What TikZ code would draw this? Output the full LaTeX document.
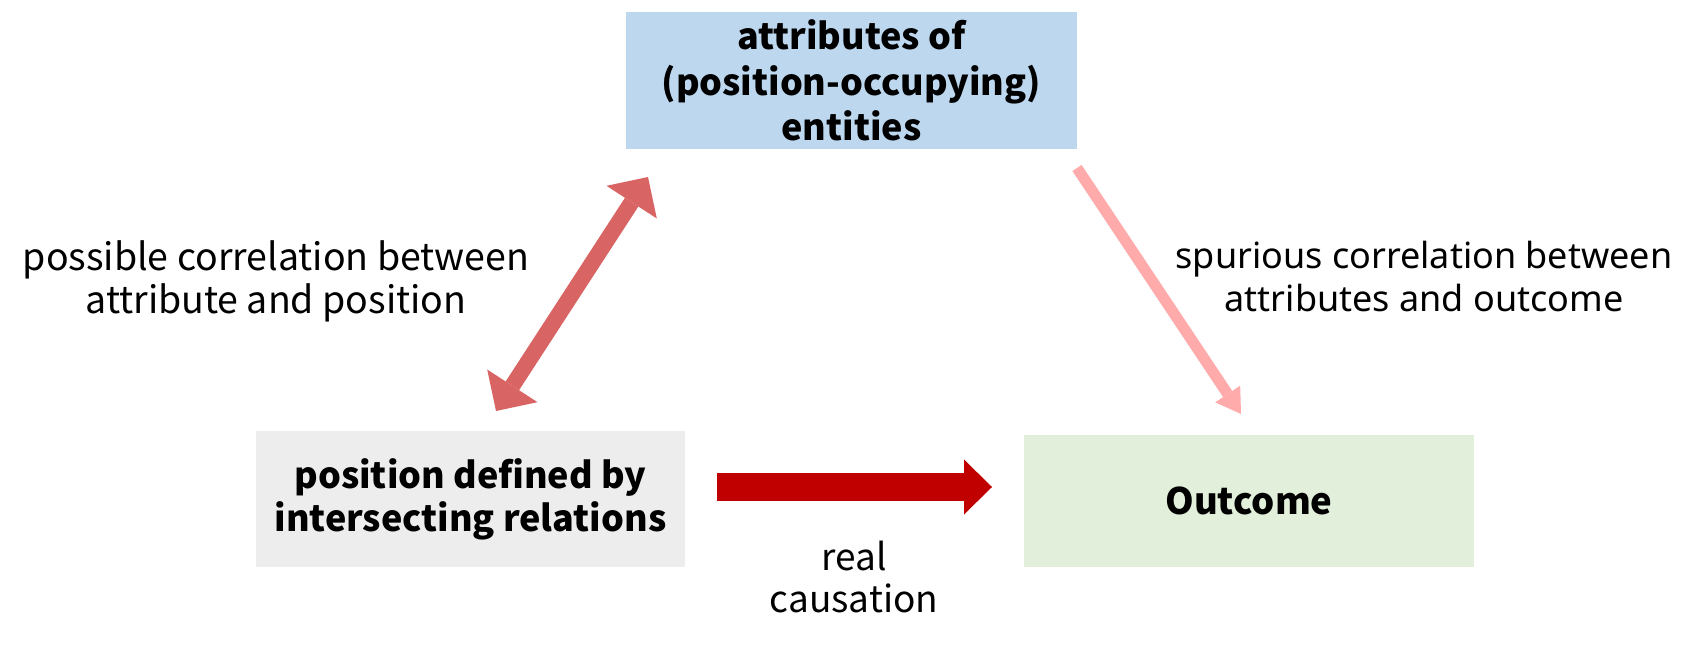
\documentclass[tikz,border=0pt]{standalone}
\usepackage{fontspec}
\setmainfont{Noto Sans CJK KR}
\newfontfamily\spfont{Noto Sans}
\usetikzlibrary{arrows.meta}
\definecolor{boxblue}{RGB}{189,215,238}
\definecolor{boxgray}{RGB}{237,237,237}
\definecolor{boxgreen}{RGB}{226,239,218}
\definecolor{arrred}{RGB}{192,0,0}
\definecolor{arrmid}{RGB}{217,100,100}
\definecolor{arrpink}{RGB}{255,171,171}
\begin{document}
\begin{tikzpicture}[x=1pt,y=-1pt,
  box/.style={inner sep=0pt, outer sep=0pt, align=center, text=black},
  lbl/.style={inner sep=0pt, outer sep=0pt, align=center, text=black}]
\useasboundingbox (0,0) rectangle (1708,647);
\fill[white] (0,0) rectangle (1708,647);
\node[box, fill=boxblue, minimum width=451pt, minimum height=137pt,
  font=\fontsize{36}{45.5}\selectfont\bfseries] (attr) at (851.5,80.5)
  {attributes of\\(position-occupying)\\entities};
\node[box, fill=boxgray, minimum width=429pt, minimum height=136pt,
  font=\fontsize{36}{43}\selectfont\bfseries] (pos) at (470.5,499)
  {\raisebox{-2pt}{position defined by}\\\raisebox{-2pt}{intersecting relations}};
\node[box, fill=boxgreen, minimum width=450pt, minimum height=132pt,
  font=\fontsize{36.5}{44}\selectfont\bfseries] (out) at (1249,501)
  {Outcome};
\node[lbl, font=\fontsize{37.5}{43.6}\selectfont] (lpc) at (276,281.5)
  {possible correlation between\\attribute and position};
\node[lbl, font=\spfont\fontsize{36}{42.6}\selectfont] (lsc) at (1424,276.6)
  {spurious correlation between\\attributes and outcome};
\node[lbl, font=\fontsize{37}{42}\selectfont] (lrc) at (854,577)
  {real\\causation};
% arrows
\coordinate (d1) at (648,177);
\coordinate (d2) at (496,411);
\draw[arrmid, line width=16pt,
  {Triangle[width=60pt,length=30pt,line width=0pt]}-{Triangle[width=60pt,length=30pt,line width=0pt]}]
  (d2) -- (d1);
\coordinate (p1) at (1077,168);
\coordinate (p2) at (1241,414);
\draw[arrpink, line width=11pt, -{Triangle[width=30pt,length=24pt,line width=0pt]}]
  (p1) -- (p2);
\coordinate (r1) at (717,487);
\coordinate (r2) at (992,487);
\draw[arrred, line width=28pt, -{Triangle[width=55pt,length=28pt,line width=0pt]}]
  (r1) -- (r2);
\end{tikzpicture}
\end{document}
